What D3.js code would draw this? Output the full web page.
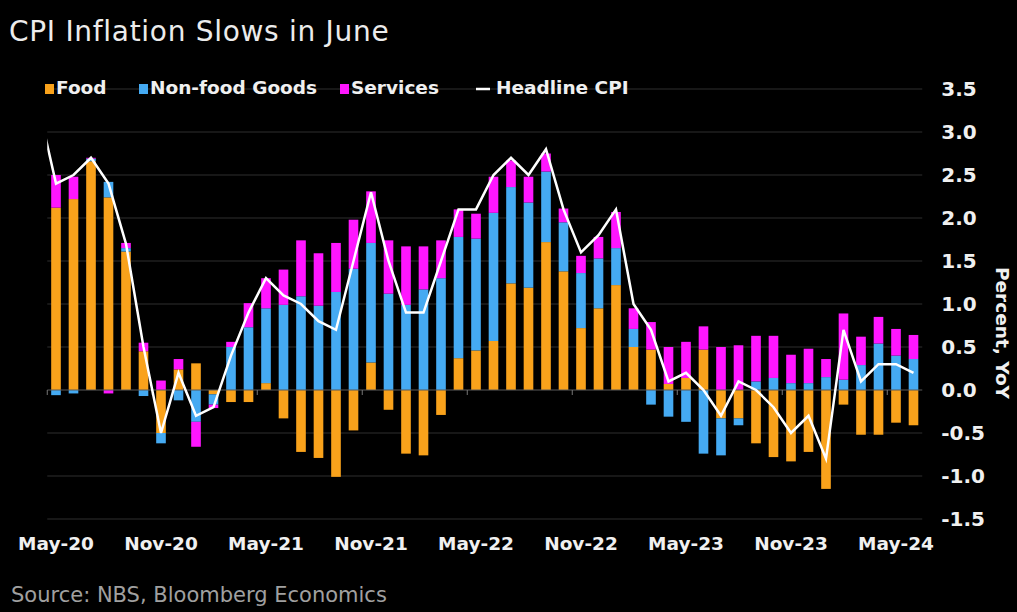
<!DOCTYPE html>
<html>
<head>
<meta charset="utf-8">
<script src="https://cdn.jsdelivr.net/npm/d3@7"></script>
<style>
  html, body { margin: 0; padding: 0; background: #000; }
  svg { display: block; }
</style>
</head>
<body>
<svg id="chart" width="1017" height="612"></svg>
<script>
// ---- data ----
const months = ["May-20","Jun-20","Jul-20","Aug-20","Sep-20","Oct-20","Nov-20","Dec-20",
  "Jan-21","Feb-21","Mar-21","Apr-21","May-21","Jun-21","Jul-21","Aug-21","Sep-21","Oct-21","Nov-21","Dec-21",
  "Jan-22","Feb-22","Mar-22","Apr-22","May-22","Jun-22","Jul-22","Aug-22","Sep-22","Oct-22","Nov-22","Dec-22",
  "Jan-23","Feb-23","Mar-23","Apr-23","May-23","Jun-23","Jul-23","Aug-23","Sep-23","Oct-23","Nov-23","Dec-23",
  "Jan-24","Feb-24","Mar-24","Apr-24","May-24","Jun-24"];
const food = [2.12,2.22,2.66,2.24,1.61,0.45,-0.50,0.24,0.31,-0.05,
  -0.14,-0.14,0.08,-0.33,-0.72,-0.79,-1.01,-0.47,0.32,-0.23,
  -0.74,-0.76,-0.29,0.37,0.46,0.57,1.24,1.19,1.72,1.38,
  0.72,0.95,1.22,0.50,0.47,0.07,0.14,0.47,-0.33,-0.33,
  -0.62,-0.78,-0.83,-0.72,-1.15,-0.17,-0.52,-0.52,-0.38,-0.41];
const nonFoodGoods = [-0.06,-0.04,0.03,0.18,0.04,-0.07,-0.12,-0.12,-0.37,-0.12,
  0.50,0.73,0.87,0.99,1.09,0.98,1.14,1.41,1.39,1.12,
  0.99,1.17,1.30,1.41,1.30,1.49,1.12,0.99,0.82,0.57,
  0.64,0.58,0.43,0.21,-0.17,-0.31,-0.37,-0.74,-0.43,-0.08,
  0.10,0.14,0.08,0.08,0.15,0.12,0.29,0.54,0.40,0.36];
const services = [0.38,0.26,0.01,-0.04,0.06,0.10,0.11,0.12,-0.29,-0.04,
  0.06,0.28,0.35,0.41,0.65,0.61,0.57,0.57,0.60,0.62,
  0.68,0.50,0.44,0.32,0.29,0.42,0.31,0.30,0.21,0.16,
  0.20,0.25,0.42,0.24,0.32,0.43,0.42,0.27,0.50,0.52,
  0.53,0.49,0.33,0.40,0.21,0.77,0.33,0.31,0.31,0.28];
// headline CPI starts one month earlier (Apr-20), clipped at the plot edge
const headlineMonths = ["Apr-20"].concat(months);
const headline = [3.3,2.4,2.5,2.7,2.4,1.7,0.5,-0.5,0.2,-0.3,-0.2,
  0.4,0.9,1.3,1.1,1.0,0.8,0.7,1.5,2.3,1.5,
  0.9,0.9,1.5,2.1,2.1,2.5,2.7,2.5,2.8,2.1,1.6,1.8,
  2.1,1.0,0.7,0.1,0.2,0.0,-0.3,0.1,0.0,-0.2,-0.5,-0.3,
  -0.8,0.7,0.1,0.3,0.3,0.2];
const xTickLabels = ["May-20","Nov-20","May-21","Nov-21","May-22","Nov-22","May-23","Nov-23","May-24"];
const yTicks = [-1.5,-1.0,-0.5,0.0,0.5,1.0,1.5,2.0,2.5,3.0,3.5];
const seriesNames = ["Food","Non-food Goods","Services","Headline CPI"];
const seriesColors = ["#F9A21B","#45AAF2","#FF16FF","#FFFFFF"];

// ---- layout ----
const svg = d3.select("#chart");
const W = 1017, H = 612;
const plotLeft = 47.25, plotRight = 922.25, plotTop = 89, plotBottom = 519;
const FONT = "'DejaVu Sans', Verdana, sans-serif";

svg.append("rect").attr("width", W).attr("height", H).attr("fill", "#000");

const x = d3.scaleBand().domain(months).range([plotLeft, plotRight])
  .paddingInner(0.45).paddingOuter(0.225);
const y = d3.scaleLinear().domain([-1.5, 3.5]).range([plotBottom, plotTop]);
const bw = x.bandwidth();
const cx = m => x(m) + bw / 2;
const xLine = (m, i) => cx(months[0]) + (i - 1) * x.step(); // i index in headlineMonths

// gridlines
svg.append("g").selectAll("line").data(yTicks.filter(v => v !== 0)).join("line")
  .attr("x1", plotLeft).attr("x2", plotRight)
  .attr("y1", d => y(d)).attr("y2", d => y(d))
  .attr("stroke", "#2e2e2e").attr("stroke-width", 1);

// stacked bars
const rows = months.map((m, i) => ({ month: m, food: food[i], nonfood: nonFoodGoods[i], services: services[i] }));
const keys = ["food", "nonfood", "services"];
const stack = d3.stack().keys(keys).offset(d3.stackOffsetDiverging)(rows);
const gBars = svg.append("g");
stack.forEach((layer, k) => {
  gBars.append("g").attr("fill", seriesColors[k]).selectAll("rect").data(layer).join("rect")
    .attr("x", d => x(d.data.month))
    .attr("width", bw)
    .attr("y", d => y(Math.max(d[0], d[1])))
    .attr("height", d => Math.abs(y(d[0]) - y(d[1])));
});

// zero line and small ticks
svg.append("line").attr("x1", plotLeft).attr("x2", plotRight)
  .attr("y1", y(0)).attr("y2", y(0)).attr("stroke", "#5a5a5a").attr("stroke-width", 1);
svg.append("g").selectAll("line").data(xTickLabels).join("line")
  .attr("x1", d => x(d) - x.step() * x.paddingInner() / 2)
  .attr("x2", d => x(d) - x.step() * x.paddingInner() / 2)
  .attr("y1", y(0)).attr("y2", y(0) + 5)
  .attr("stroke", "#777").attr("stroke-width", 1);

// headline line
svg.append("clipPath").attr("id", "plotclip").append("rect")
  .attr("x", plotLeft).attr("y", 0).attr("width", plotRight - plotLeft).attr("height", H);
const line = d3.line().x((d, i) => xLine(d, i)).y((d, i) => y(headline[i]));
svg.append("path").datum(headlineMonths)
  .attr("clip-path", "url(#plotclip)")
  .attr("d", line)
  .attr("fill", "none").attr("stroke", "#fff").attr("stroke-width", 2.5)
  .attr("stroke-linejoin", "miter");

// right axis
const yAxis = svg.append("g").attr("transform", `translate(${plotRight},0)`)
  .call(d3.axisRight(y).tickValues(yTicks).tickFormat(d => d.toFixed(1)).tickSize(0).tickPadding(19));
yAxis.select(".domain").remove();
yAxis.selectAll("text").attr("fill", "#f0f0f0").attr("font-family", FONT)
  .attr("font-size", 20).attr("font-weight", "bold");

svg.append("text").attr("transform", `translate(1001,333) rotate(90)`)
  .attr("text-anchor", "middle").attr("dominant-baseline", "middle")
  .attr("fill", "#f0f0f0").attr("font-family", FONT).attr("font-size", 18.5).attr("font-weight", "bold")
  .text("Percent, YoY");

// bottom axis
const xAxis = svg.append("g").attr("transform", `translate(0,${plotBottom + 8})`)
  .call(d3.axisBottom(x).tickValues(xTickLabels).tickSize(0).tickPadding(10));
xAxis.select(".domain").remove();
xAxis.selectAll("text").attr("fill", "#f0f0f0").attr("font-family", FONT)
  .attr("font-size", 18.5).attr("font-weight", "bold");

// title
svg.append("text").attr("x", 9).attr("y", 41).attr("fill", "#ececec")
  .attr("font-family", FONT).attr("font-size", 28).attr("letter-spacing", 0.7)
  .text("CPI Inflation Slows in June");

// legend
const legend = svg.append("g").attr("font-family", FONT).attr("font-size", 18.5).attr("font-weight", "bold");
const legendX = [45, 139, 340, 476];
seriesNames.forEach((name, i) => {
  const g = legend.append("g").attr("transform", `translate(${legendX[i]},89)`);
  if (i < 3) {
    g.append("rect").attr("x", 0).attr("y", -5).attr("width", 9).attr("height", 10).attr("fill", seriesColors[i]);
  } else {
    g.append("line").attr("x1", 0).attr("x2", 14).attr("y1", 0).attr("y2", 0)
      .attr("stroke", seriesColors[i]).attr("stroke-width", 2.5);
  }
  g.append("text").attr("x", i < 3 ? 11 : 20).attr("y", 0).attr("dominant-baseline", "middle")
    .attr("fill", "#f0f0f0").text(name);
});

// source
svg.append("text").attr("x", 11).attr("y", 602).attr("fill", "#a0a0a0")
  .attr("font-family", FONT).attr("font-size", 21).text("Source: NBS, Bloomberg Economics");
</script>
</body>
</html>
